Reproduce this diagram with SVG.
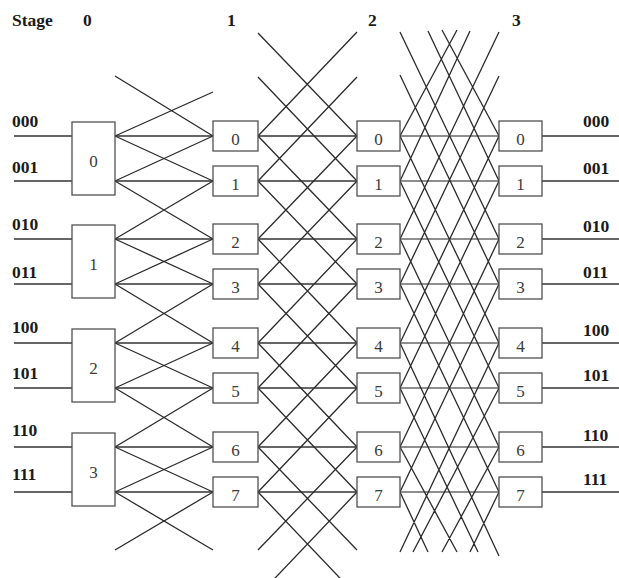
<svg xmlns="http://www.w3.org/2000/svg" width="619" height="578" viewBox="0 0 619 578">
<style>
.bg{fill:#ffffff}
.box{fill:#ffffff;stroke:#505050;stroke-width:1.3}
.lbl{font-family:"Liberation Serif","Times New Roman",serif;font-weight:bold;font-size:17.5px;fill:#1a1a1a}
.num{font-family:"Liberation Serif","Times New Roman",serif;font-size:17px;fill:#3a3a3a;text-anchor:middle}
.wire{fill:none;stroke:#2a2a2a;stroke-width:1.3}
.hw{fill:none;stroke:#353535;stroke-width:1.3}
.hw2{fill:none;stroke:#6a6a6a;stroke-width:1.3}
</style>
<rect class="bg" x="0" y="0" width="619" height="578"/>

<g id="connectors">
  <path class="hw" d="M14 136H72M14 181H72M14 239H72M14 284H72M14 343H72M14 388H72M14 447H72M14 492H72"/>
  <path class="hw" d="M542 136H619M542 181H619M542 239H619M542 284H619M542 343H619M542 388H619M542 447H619M542 492H619"/>
  <path class="hw" d="M115 136H213M115 181H213M115 239H213M115 284H213M115 343H213M115 388H213M115 447H213M115 492H213"/>
  <path class="wire" d="M115 136L213 181M115 181L213 136M115 181L213 239M115 239L213 181M115 239L213 284M115 284L213 239M115 284L213 343M115 343L213 284M115 343L213 388M115 388L213 343M115 388L213 447M115 447L213 388M115 447L213 492M115 492L213 447M115 76L213 136M115 136L213 92M115 492L213 550M115 550L213 492"/>
  <path class="hw" d="M258 136H357M258 181H357M258 239H357M258 284H357M258 343H357M258 388H357M258 447H357M258 492H357"/>
  <path class="wire" d="M258 136L357 239M258 239L357 136M258 181L357 284M258 284L357 181M258 239L357 343M258 343L357 239M258 284L357 388M258 388L357 284M258 343L357 447M258 447L357 343M258 388L357 492M258 492L357 388M258 33L357 136M258 77L357 181M258 136L357 32M258 181L357 77M258 447L357 550M258 492L357 596M258 550L357 447M258 596L357 492"/>
  <path class="hw2" d="M400 136H499M400 181H499M400 239H499M400 284H499M400 343H499M400 388H499M400 447H499M400 492H499"/>
  <path class="wire" d="M400 136L499 343M400 343L499 136M400 181L499 388M400 388L499 181M400 239L499 447M400 447L499 239M400 284L499 492M400 492L499 284M442 30L499 136M428 31L499 181M400 32L499 239M400 75L499 284M400 136L457 30M400 181L470 31M400 239L499 32M400 284L499 76M400 552L499 343M413 552L499 388M442 552L499 447M470 552L499 492M400 343L499 556M400 388L478 552M400 447L457 552M400 492L428 552"/>
</g>

<g id="labels">
  <text class="lbl" x="12" y="26">Stage</text>
  <text class="lbl" x="83" y="26">0</text>
  <text class="lbl" x="227" y="26">1</text>
  <text class="lbl" x="368" y="26">2</text>
  <text class="lbl" x="512" y="26">3</text>
  <text class="lbl" x="12" y="127">000</text>
  <text class="lbl" x="12" y="173">001</text>
  <text class="lbl" x="12" y="230">010</text>
  <text class="lbl" x="12" y="278">011</text>
  <text class="lbl" x="12" y="333">100</text>
  <text class="lbl" x="12" y="379">101</text>
  <text class="lbl" x="12" y="436">110</text>
  <text class="lbl" x="12" y="480">111</text>
  <text class="lbl" x="583" y="127">000</text>
  <text class="lbl" x="583" y="174">001</text>
  <text class="lbl" x="583" y="232">010</text>
  <text class="lbl" x="583" y="278">011</text>
  <text class="lbl" x="583" y="336">100</text>
  <text class="lbl" x="583" y="381">101</text>
  <text class="lbl" x="583" y="441">110</text>
  <text class="lbl" x="583" y="485">111</text>
</g>

<g id="s0n0"><rect class="box" x="72" y="122" width="43" height="73"/><text class="num" x="93.5" y="167">0</text></g>
<g id="s0n1"><rect class="box" x="72" y="225" width="43" height="73"/><text class="num" x="93.5" y="270">1</text></g>
<g id="s0n2"><rect class="box" x="72" y="329" width="43" height="73"/><text class="num" x="93.5" y="374">2</text></g>
<g id="s0n3"><rect class="box" x="72" y="433" width="43" height="73"/><text class="num" x="93.5" y="478">3</text></g>

<g id="s1n0"><rect class="box" x="213" y="121" width="45" height="30"/><text class="num" x="235.5" y="145">0</text></g>
<g id="s1n1"><rect class="box" x="213" y="166" width="45" height="30"/><text class="num" x="235.5" y="190">1</text></g>
<g id="s1n2"><rect class="box" x="213" y="224" width="45" height="30"/><text class="num" x="235.5" y="248">2</text></g>
<g id="s1n3"><rect class="box" x="213" y="269" width="45" height="30"/><text class="num" x="235.5" y="293">3</text></g>
<g id="s1n4"><rect class="box" x="213" y="328" width="45" height="30"/><text class="num" x="235.5" y="352">4</text></g>
<g id="s1n5"><rect class="box" x="213" y="373" width="45" height="30"/><text class="num" x="235.5" y="397">5</text></g>
<g id="s1n6"><rect class="box" x="213" y="432" width="45" height="30"/><text class="num" x="235.5" y="456">6</text></g>
<g id="s1n7"><rect class="box" x="213" y="477" width="45" height="30"/><text class="num" x="235.5" y="501">7</text></g>

<g id="s2n0"><rect class="box" x="357" y="121" width="43" height="30"/><text class="num" x="378.5" y="145">0</text></g>
<g id="s2n1"><rect class="box" x="357" y="166" width="43" height="30"/><text class="num" x="378.5" y="190">1</text></g>
<g id="s2n2"><rect class="box" x="357" y="224" width="43" height="30"/><text class="num" x="378.5" y="248">2</text></g>
<g id="s2n3"><rect class="box" x="357" y="269" width="43" height="30"/><text class="num" x="378.5" y="293">3</text></g>
<g id="s2n4"><rect class="box" x="357" y="328" width="43" height="30"/><text class="num" x="378.5" y="352">4</text></g>
<g id="s2n5"><rect class="box" x="357" y="373" width="43" height="30"/><text class="num" x="378.5" y="397">5</text></g>
<g id="s2n6"><rect class="box" x="357" y="432" width="43" height="30"/><text class="num" x="378.5" y="456">6</text></g>
<g id="s2n7"><rect class="box" x="357" y="477" width="43" height="30"/><text class="num" x="378.5" y="501">7</text></g>

<g id="s3n0"><rect class="box" x="499" y="121" width="43" height="30"/><text class="num" x="520.5" y="145">0</text></g>
<g id="s3n1"><rect class="box" x="499" y="166" width="43" height="30"/><text class="num" x="520.5" y="190">1</text></g>
<g id="s3n2"><rect class="box" x="499" y="224" width="43" height="30"/><text class="num" x="520.5" y="248">2</text></g>
<g id="s3n3"><rect class="box" x="499" y="269" width="43" height="30"/><text class="num" x="520.5" y="293">3</text></g>
<g id="s3n4"><rect class="box" x="499" y="328" width="43" height="30"/><text class="num" x="520.5" y="352">4</text></g>
<g id="s3n5"><rect class="box" x="499" y="373" width="43" height="30"/><text class="num" x="520.5" y="397">5</text></g>
<g id="s3n6"><rect class="box" x="499" y="432" width="43" height="30"/><text class="num" x="520.5" y="456">6</text></g>
<g id="s3n7"><rect class="box" x="499" y="477" width="43" height="30"/><text class="num" x="520.5" y="501">7</text></g>
</svg>
